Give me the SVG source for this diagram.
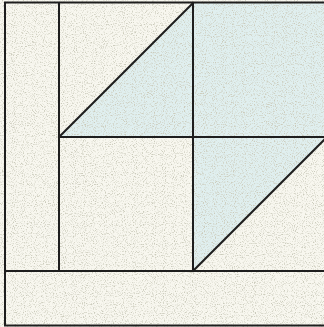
<svg xmlns="http://www.w3.org/2000/svg" width="324" height="327" viewBox="0 0 324 327">
<defs>
<style>
.cream{fill:#f8f7ef}
.blue{fill:#e0efef}
.ln{stroke:#1e1e1e;stroke-width:2;fill:none;stroke-linecap:square}
</style>
<filter id="speck" x="0" y="0" width="100%" height="100%">
<feTurbulence type="fractalNoise" baseFrequency="0.9" numOctaves="2" seed="3" result="n"/>
<feColorMatrix in="n" type="matrix" values="0 0 0 0 0.6  0 0 0 0 0.6  0 0 0 0 0.5  0 0 0 -3.5 1.75" result="s"/>
<feComposite in="s" in2="SourceGraphic" operator="in" result="m"/>
<feMerge><feMergeNode in="SourceGraphic"/><feMergeNode in="m"/></feMerge>
</filter>
</defs>
<g id="fabric" filter="url(#speck)">
<rect class="cream" x="0" y="0" width="324" height="327"/>
<polygon id="tri-top" class="blue" points="193,3 193,137 59,137"/>
<rect id="square-blue" class="blue" x="193" y="3" width="131" height="134"/>
<polygon id="tri-bottom" class="blue" points="193,137 324,137 324,139 193,271"/>
</g>
<g id="connectors">
<path class="ln" d="M5,2.5 H324 M5,325.5 H324 M5,2.5 V325.5"/>
<path class="ln" d="M59,3 V271 M193,3 V271 M5,271 H324 M59,137 H324"/>
<path class="ln" d="M59,137 L193,3 M193,271 L324,140"/>
</g>
</svg>
